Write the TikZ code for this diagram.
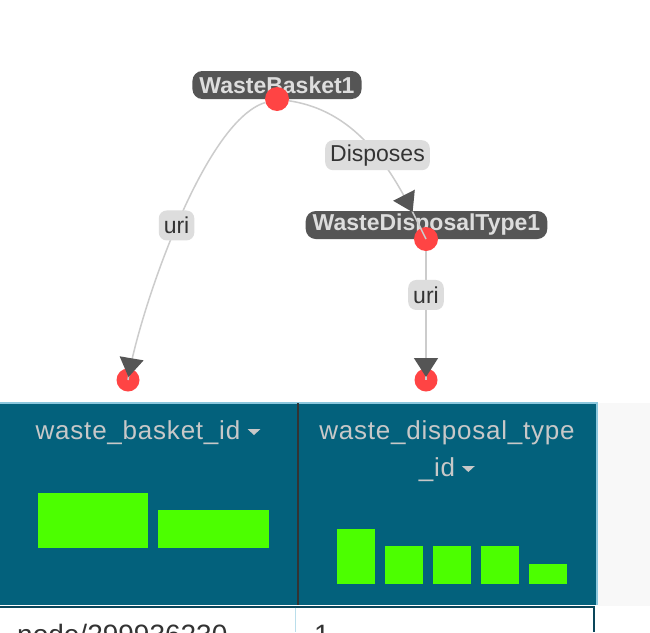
\documentclass[tikz,border=0pt]{standalone}
\usepackage{fontspec}
\setmainfont{Liberation Sans}
\newfontfamily\headfont[LetterSpace=3]{Liberation Sans}
\usetikzlibrary{arrows.meta,decorations.markings}

\definecolor{labelgray}{RGB}{85,85,85}
\definecolor{labeltext}{RGB}{221,221,221}
\definecolor{dotred}{RGB}{255,68,68}
\definecolor{edgegray}{RGB}{204,204,204}
\definecolor{tipgray}{RGB}{85,85,85}
\definecolor{tagfill}{RGB}{221,221,221}
\definecolor{tagtext}{RGB}{51,51,51}
\definecolor{headteal}{RGB}{3,97,124}
\definecolor{headtext}{RGB}{200,200,200}
\definecolor{barfill}{RGB}{76,255,0}
\definecolor{paleblue}{RGB}{140,200,222}
\definecolor{rowline}{RGB}{10,70,90}
\definecolor{sidegray}{RGB}{248,248,248}

\tikzset{
  entity/.style={fill=labelgray, text=labeltext, rounded corners=10pt,
    font=\fontsize{23}{27}\selectfont\bfseries, minimum height=28pt,
    inner xsep=7pt, inner ysep=0pt},
  vertex/.style={circle, fill=dotred, minimum size=24pt, inner sep=0pt},
  edge/.style={draw=edgegray, line width=1.5pt},
  tag/.style={fill=tagfill, text=tagtext, rounded corners=8pt,
    font=\fontsize{23}{27}\selectfont, minimum height=30pt,
    inner xsep=5pt, inner ysep=0pt},
  tipat/.style={postaction={decorate}, decoration={markings,
    mark=at position #1 with {\arrow[tipgray]{Triangle[width=24pt,length=19pt]}}}},
  bar/.style={fill=barfill},
  colhead/.style={text=headtext, font=\headfont\fontsize{26}{30}\selectfont, inner sep=0pt},
  cell/.style={text=tagtext, font=\fontsize{28}{32}\selectfont, inner sep=0pt, anchor=base west},
}

\begin{document}
\begin{tikzpicture}[x=1pt, y=-1pt]

\clip (0,0) rectangle (650,632);
\fill[white] (0,0) rectangle (650,632);

% Entity labels and their vertices
\node[entity] (wblab) at (277,85) {WasteBasket1};
\node[entity] (wdtlab) at (426.5,225) {WasteDisposalType1};
\node[vertex] (wb) at (277,99) {};
\node[vertex] (wdt) at (426,239) {};
\node[vertex, minimum size=23pt] (uria) at (128,380) {};
\node[vertex, minimum size=23pt] (urib) at (426,380) {};

% Edges
\draw[edge, tipat=-3pt] (wb) .. controls (202.5,121.4) and (137.2,319) .. (uria.center)
  node[tag, pos=0.5] (tagA) {uri};
\draw[edge, tipat=-30pt] (wb) .. controls (367.8,112.6) and (400.5,188) .. (wdt.center)
  node[tag, pos=0.5] (tagB) {Disposes};
\draw[edge, tipat=-3pt] (wdt) -- (urib.center)
  node[tag, pos=0.34] (tagC) {uri};

% Table header
\fill[sidegray] (598,403) rectangle (650,606);
\fill[headteal] (0,403) rectangle (597,605);
\draw[paleblue, line width=1.5pt] (0,403) -- (597,403) -- (597,605);
\draw[black!80, line width=1.5pt] (298,403) -- (298,605);

\node[colhead, anchor=base] (colA) at (138,439) {waste\_basket\_id};
\node[colhead, anchor=base] (colB) at (447,439) {waste\_disposal\_type};
\node[colhead, anchor=base] (colBb) at (437,476) {\_id};
\fill[headtext] (colA.base east) ++(7,-10) -- ++(13,0) -- ++(-6.5,6) -- cycle;
\fill[headtext] (colBb.base east) ++(6.5,-10) -- ++(13,0) -- ++(-6.5,6) -- cycle;

% Histograms
\fill[bar] (38,493) rectangle (148,548);
\fill[bar] (158,510) rectangle (269,548);
\foreach \x/\top in {337/529, 385/546, 433/546, 481/546, 529/564}
  \fill[bar] (\x,\top) rectangle ({\x+38},584);

% First row
\draw[rowline, line width=2pt] (0,606.5) -- (594,606.5) -- (594,632);
\draw[paleblue!60, line width=1.5pt] (295.5,607.5) -- (295.5,632);
\node[cell] (cellA) at (17,644) {node/299936230};
\node[cell] (cellB) at (314,644) {1};

\end{tikzpicture}
\end{document}
